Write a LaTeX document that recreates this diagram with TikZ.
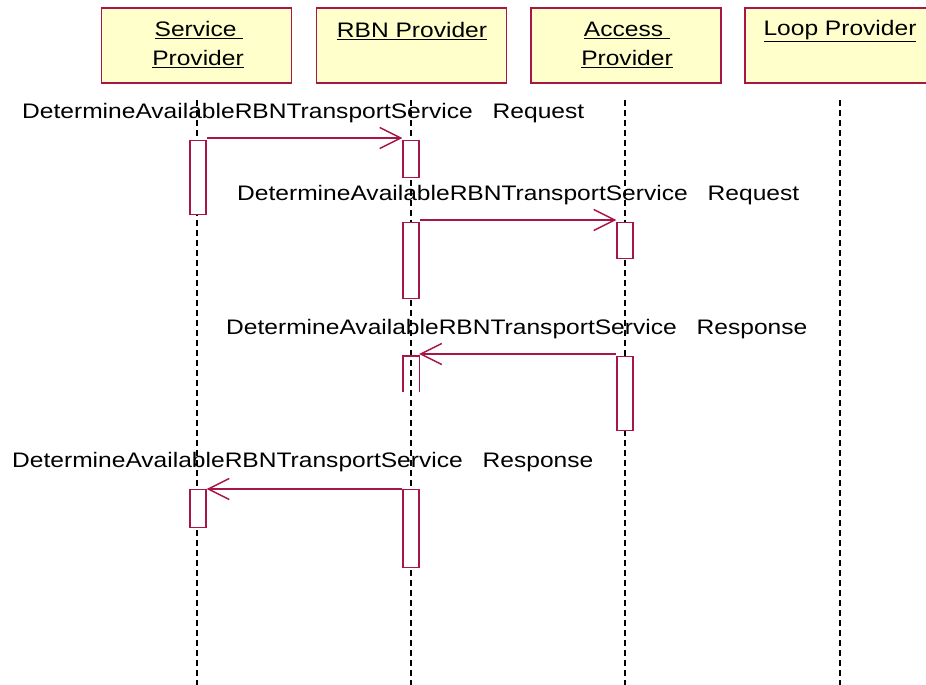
\documentclass[tikz,border=0pt]{standalone}
\usepackage{fontspec}
\setmainfont[FakeStretch=1.17]{Liberation Sans}
\usetikzlibrary{arrows.meta}
\definecolor{umlred}{RGB}{168,22,72}
\definecolor{umlfill}{RGB}{255,255,204}
\tikzset{
  objbox/.style={draw=umlred, fill=umlfill, line width=1.6pt, minimum width=190pt, minimum height=75pt, inner sep=0pt},
  hdr/.style={font=\fontsize{21}{21}\selectfont, inner sep=0pt, anchor=center},
  life/.style={draw=black, line width=1.1pt, dash pattern=on 6pt off 4pt},
  act/.style={draw=umlred, fill=white, line width=1.4pt, minimum width=16pt, inner sep=0pt, anchor=north},
  actopen/.style={minimum width=16pt, inner sep=0pt, anchor=north},
  msg/.style={draw=umlred, line width=1.4pt, -{Straight Barb[length=21pt,width=21pt,line width=1.4pt]}},
  lbl/.style={font=\fontsize{21}{21}\selectfont, inner sep=0pt, anchor=west}
}
\begin{document}
\begin{tikzpicture}[x=1pt,y=-1pt]
\useasboundingbox (0,0) rectangle (926,685);
\begin{scope}
\clip (0,0) rectangle (926,685);
% object boxes
\node[objbox] (sp) at (196.5,45.5) {};
\node[objbox] (rbn) at (411.5,45.5) {};
\node[objbox] (ap) at (626,45.5) {};
\node[objbox] (lp) at (840,45.5) {};
\end{scope}
\node[hdr] (spt1) at (199,30) {\underline{Service~}};
\node[hdr] (spt2) at (198,59) {\underline{Provider}};
\node[hdr] (rbnt) at (412,31) {\underline{RBN Provider}};
\node[hdr] (apt1) at (627,30) {\underline{Access~}};
\node[hdr] (apt2) at (627,59) {\underline{Provider}};
\node[hdr] (lpt) at (840,31) {\underline{Loop Provider}};
% lifelines
\coordinate (l1a) at (197,100); \coordinate (l1b) at (197,685);
\coordinate (l2a) at (411,100); \coordinate (l2b) at (411,685);
\coordinate (l3a) at (625,100); \coordinate (l3b) at (625,685);
\coordinate (l4a) at (840,100); \coordinate (l4b) at (840,685);
\draw[life] (l1a) -- (l1b);
\draw[life] (l2a) -- (l2b);
\draw[life] (l3a) -- (l3b);
\draw[life] (l4a) -- (l4b);
% activations
\node[act, minimum height=74pt] (sa1) at (198,140) {};
\node[act, minimum height=37pt] (ra1) at (411,140) {};
\node[act, minimum height=76pt] (ra2) at (411,222) {};
\node[act, minimum height=36pt] (aa1) at (625,222) {};
\node[actopen, minimum height=36pt] (ra3) at (411,356) {};
\draw[umlred, line width=1.4pt] (ra3.south west) -- (ra3.north west) -- (ra3.north east) -- (ra3.south east);
\node[act, minimum height=74pt] (aa2) at (625,356) {};
\node[act, minimum height=38pt] (sa2) at (198,489) {};
\node[act, minimum height=78pt] (ra4) at (411,489) {};
% labels
\node[lbl] (m1) at (22,113) {DetermineAvailableRBNTransportService\hspace{20pt}Request};
\node[lbl] (m2) at (237,195) {DetermineAvailableRBNTransportService\hspace{20pt}Request};
\node[lbl] (m3) at (226,329) {DetermineAvailableRBNTransportService\hspace{20pt}Response};
\node[lbl] (m4) at (12,462) {DetermineAvailableRBNTransportService\hspace{20pt}Response};
% messages
\draw[msg] ([yshift=2pt]sa1.north east) -- ([yshift=2pt]ra1.north west);
\draw[msg] ([yshift=2pt]ra2.north east) -- ([yshift=2pt]aa1.north west);
\draw[msg] ([yshift=2pt]aa2.north west) -- ([yshift=2pt]ra3.north east);
\draw[msg] (ra4.north west) -- (sa2.north east);
\end{tikzpicture}
\end{document}
